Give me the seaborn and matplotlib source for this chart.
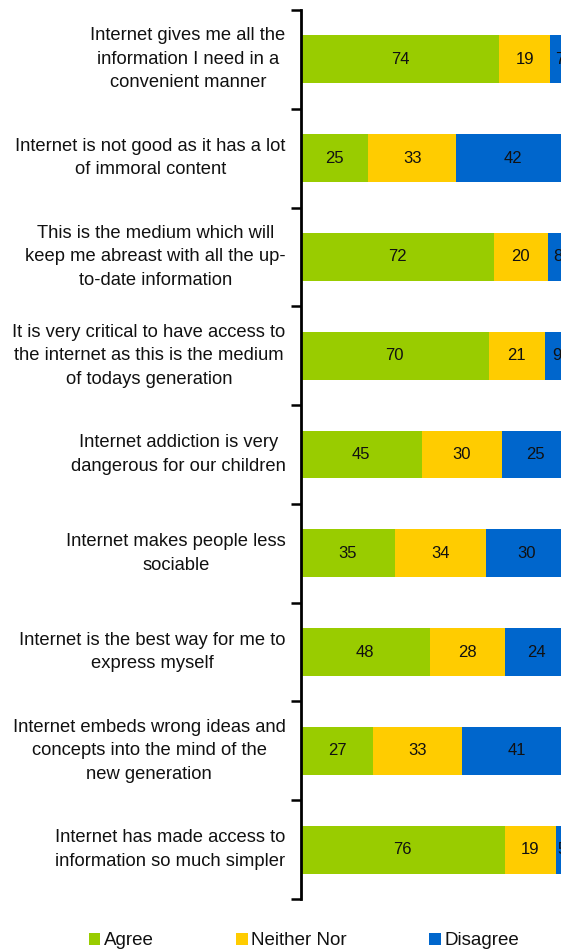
import matplotlib
matplotlib.use("Agg")
import matplotlib.pyplot as plt
from matplotlib.patches import Patch
import seaborn as sns
import pandas as pd
import numpy as np

statements = [
    "Internet gives me all the\ninformation I need in a\nconvenient manner",
    "Internet is not good as it has a lot\nof immoral content",
    "This is the medium which will\nkeep me abreast with all the up-\nto-date information",
    "It is very critical to have access to\nthe internet as this is the medium\nof todays generation",
    "Internet addiction is very\ndangerous for our children",
    "Internet makes people less\nsociable",
    "Internet is the best way for me to\nexpress myself",
    "Internet embeds wrong ideas and\nconcepts into the mind of the\nnew generation",
    "Internet has made access to\ninformation so much simpler",
]
agree = [74, 25, 72, 70, 45, 35, 48, 27, 76]
neither = [19, 33, 20, 21, 30, 34, 28, 33, 19]
disagree = [7, 42, 8, 9, 25, 30, 24, 41, 5]

series_names = ["Agree", "Neither Nor", "Disagree"]
colors = ["#99CC00", "#FFCC00", "#0066CC"]

sns.set_theme(style="white")
plt.rcParams["font.family"] = ["Liberation Sans", "DejaVu Sans"]

df = pd.DataFrame({"statement": statements, "Agree": agree,
                   "Neither Nor": neither, "Disagree": disagree})
df["c1"] = df["Agree"]
df["c2"] = df["Agree"] + df["Neither Nor"]
df["c3"] = df["c2"] + df["Disagree"]

fig = plt.figure(figsize=(5.61, 9.5), dpi=100)
ax = fig.add_axes([301 / 561, 0.0537, 268 / 561, 0.9358])

bar_w = 0.485
for col, color in zip(["c3", "c2", "c1"], colors[::-1]):
    sns.barplot(data=df, x=col, y="statement", color=color, orient="h",
                width=bar_w, ax=ax, saturation=1, linewidth=0)

# value labels centred in each segment
n = len(statements)
for i in range(n):
    starts = [0, agree[i], agree[i] + neither[i]]
    vals = [agree[i], neither[i], disagree[i]]
    for s, v in zip(starts, vals):
        ax.text(s + v / 2, i, str(v), ha="center", va="center",
                fontsize=12, color="#111111")

ax.set_xlim(0, 100)
ax.set_ylim(n - 0.5, -0.5)
ax.set_xlabel("")
ax.set_ylabel("")
ax.xaxis.set_visible(False)

# boundary ticks on the category axis, labels between them
ax.set_yticks(np.arange(-0.5, n, 1.0))
ax.set_yticklabels([])
ax.set_yticks(np.arange(n), minor=True)
ax.set_yticklabels(statements, minor=True, fontsize=13.2, color="#111111",
                   ha="right", va="center", multialignment="center",
                   linespacing=1.5)
ax.tick_params(axis="y", which="major", direction="out", length=7,
               width=1.8, color="black", left=True)
ax.tick_params(axis="y", which="minor", length=0, pad=11)

for side in ["top", "right", "bottom"]:
    ax.spines[side].set_visible(False)
ax.spines["left"].set_color("black")
ax.spines["left"].set_linewidth(2)

handles = [Patch(facecolor=c, edgecolor="none", label=l)
           for c, l in zip(colors, series_names)]
fig.legend(handles=handles, loc="center", bbox_to_anchor=(0.542, 0.0095),
           ncol=3, frameon=False, fontsize=13.5, handlelength=0.6,
           handleheight=0.6, handletextpad=0.2, columnspacing=4.4,
           labelcolor="#111111")

fig.savefig("out.png", dpi=100)
